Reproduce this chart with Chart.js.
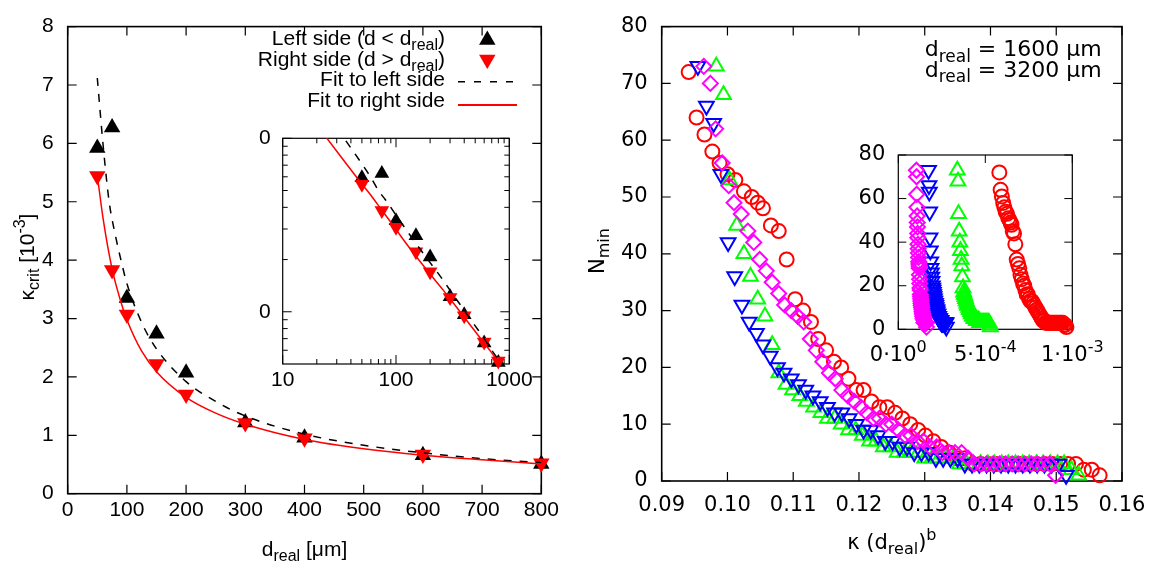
<!DOCTYPE html>
<html lang="en">
<head>
<meta charset="utf-8">
<title>Critical curvature and minimal N</title>
<script src="https://cdn.jsdelivr.net/npm/chart.js@4.4.1/dist/chart.umd.min.js"></script>
<style>
  html, body { margin: 0; padding: 0; background: #fff; }
  #stage { position: relative; width: 1164px; height: 564px; overflow: hidden; }
  #stage canvas { position: absolute; left: 0; top: 0; }
</style>
</head>
<body>
<div id="stage">
  <canvas id="left-main" width="1164" height="564"></canvas>
  <canvas id="left-inset" width="1164" height="564"></canvas>
  <canvas id="right-main" width="1164" height="564"></canvas>
  <canvas id="right-inset" width="1164" height="564"></canvas>
</div>
<script>
// ---- left panel: kappa_crit (in 1e-3) against d_real (um) ----
const dReal = [50, 75, 100, 150, 200, 300, 400, 600, 800];
const kappaLeftSide = [5.92, 6.27, 3.35, 2.74, 2.07, 1.22, 0.96, 0.66, 0.51];
const kappaRightSide = [5.44, 3.83, 3.07, 2.22, 1.70, 1.21, 0.95, 0.67, 0.52];
const fitLeftX = [50, 60, 70, 80, 90, 100, 125, 150, 200, 250, 300, 400, 500, 600, 700, 800];
const fitLeftY = [7.12, 5.95, 5.0, 4.45, 4.0, 3.6, 2.93, 2.48, 1.92, 1.58, 1.33, 1.02, 0.83, 0.70, 0.60, 0.53];
const fitRightX = [50, 60, 75, 90, 100, 125, 150, 200, 250, 300, 400, 500, 600, 700, 800];
const fitRightY = [5.45, 4.70, 3.85, 3.28, 2.98, 2.44, 2.09, 1.65, 1.38, 1.19, 0.93, 0.77, 0.66, 0.58, 0.51];
// the log-log inset shows the fits over its whole x range
const fitLeftLead = [30, 11.5], fitLeftTail = [1000, 0.43];
const fitRightLead = [20, 11.93], fitRightTail = [1000, 0.42];

const leftXTicks = [0, 100, 200, 300, 400, 500, 600, 700, 800];
const leftYTicks = [0, 1, 2, 3, 4, 5, 6, 7, 8];
const logXTicks = [10, 100, 1000];
const logXMinor = [20, 30, 40, 50, 60, 70, 80, 90, 200, 300, 400, 500, 600, 700, 800, 900];
const logYTicks = [1, 10];
const logYMinor = [0.6, 0.7, 0.8, 0.9, 2, 3, 4, 5, 6, 7, 8, 9];

// ---- right panel: N_min against kappa * d_real^b ----
const redX = [0.0941, 0.0953, 0.0965, 0.0977, 0.0988, 0.1000, 0.1012, 0.1025, 0.1037, 0.1046, 0.1054, 0.1066, 0.1078, 0.1090,
  0.1103, 0.1115, 0.1127, 0.1138, 0.1150, 0.1162, 0.1173, 0.1184, 0.1196, 0.1207, 0.1219, 0.1231, 0.1243, 0.1255, 0.1266,
  0.1278, 0.1290, 0.1301, 0.1313, 0.1325, 0.1337, 0.1349, 0.1361, 0.1373, 0.1385, 0.1397, 0.1409, 0.1421, 0.1434, 0.1446,
  0.1458, 0.1470, 0.1482, 0.1494, 0.1506, 0.1518, 0.1530, 0.1542, 0.1554, 0.1566];
const redN = [72, 64, 61, 58, 56, 54, 53, 51, 50, 49, 48, 45, 44, 39, 32, 30, 28, 25, 23, 21, 20, 18, 16, 16, 14, 13, 13, 12, 11,
  10, 9, 8, 7, 6, 5, 4, 4, 3, 3, 3, 3, 3, 3, 3, 3, 3, 3, 3, 3, 3, 3, 2, 2, 1];

const greenX = [0.0983, 0.0994, 0.1003, 0.1014, 0.1025, 0.1035, 0.1046, 0.1057, 0.1068, 0.1078, 0.1089, 0.1099, 0.1110, 0.1120,
  0.1131, 0.1142, 0.1152, 0.1163, 0.1173, 0.1184, 0.1195, 0.1205, 0.1216, 0.1226, 0.1237, 0.1248, 0.1258, 0.1269, 0.1279,
  0.1290, 0.1300, 0.1311, 0.1322, 0.1332, 0.1343, 0.1353, 0.1364, 0.1374, 0.1385, 0.1396, 0.1406, 0.1417, 0.1427, 0.1438,
  0.1449, 0.1459, 0.1470, 0.1480, 0.1491, 0.1502, 0.1512, 0.1523, 0.1534];
const greenN = [73, 68, 53, 45, 40, 36, 32, 29, 24, 19, 17, 16, 15, 14, 13, 12, 11, 11, 10, 9, 9, 8, 7, 7, 6, 6, 5, 5, 5,
  5, 4, 4, 4, 4, 4, 3, 3, 3, 3, 3, 3, 3, 3, 3, 3, 3, 3, 3, 3, 3, 3, 2, 1];

const blueX = [0.0955, 0.0968, 0.0979, 0.0990, 0.1001, 0.1011, 0.1022, 0.1033, 0.1044, 0.1054, 0.1065, 0.1076, 0.1086, 0.1097,
  0.1108, 0.1119, 0.1130, 0.1141, 0.1152, 0.1163, 0.1174, 0.1185, 0.1196, 0.1207, 0.1218, 0.1229, 0.1240, 0.1251, 0.1262,
  0.1273, 0.1284, 0.1295, 0.1306, 0.1317, 0.1328, 0.1339, 0.1350, 0.1361, 0.1372, 0.1383, 0.1394, 0.1405, 0.1416, 0.1427,
  0.1438, 0.1449, 0.1460, 0.1471, 0.1482, 0.1493, 0.1504, 0.1515];
const blueN = [73, 66, 63, 54, 42, 36, 31, 28, 26, 24, 22, 20, 19, 18, 17, 16, 15, 14, 13, 12, 12, 11, 10, 9, 9, 8, 7, 7, 6,
  6, 5, 5, 5, 4, 4, 4, 4, 3, 3, 3, 3, 3, 3, 3, 3, 3, 3, 3, 3, 3, 3, 1];

const magentaX = [0.0964, 0.0974, 0.0982, 0.0992, 0.1002, 0.1010, 0.1021, 0.1031, 0.1040, 0.1049, 0.1059, 0.1068, 0.1078,
  0.1087, 0.1097, 0.1107, 0.1116, 0.1126, 0.1135, 0.1145, 0.1155, 0.1164, 0.1174, 0.1183, 0.1193, 0.1203, 0.1212, 0.1222,
  0.1231, 0.1241, 0.1250, 0.1260, 0.1270, 0.1279, 0.1289, 0.1298, 0.1308, 0.1318, 0.1327, 0.1337, 0.1346, 0.1356, 0.1366,
  0.1375, 0.1385, 0.1394, 0.1404, 0.1414, 0.1423, 0.1433, 0.1442, 0.1452, 0.1462, 0.1471, 0.1481, 0.1490, 0.1499];
const magentaN = [73, 70, 62, 56, 52, 49, 47, 44, 42, 39, 37, 35, 33, 31, 30, 29, 28, 25, 23, 21, 19, 18, 16, 15, 14, 13, 12, 11,
  11, 10, 10, 9, 8, 8, 7, 7, 6, 6, 5, 5, 5, 5, 4, 3, 3, 3, 3, 3, 3, 3, 3, 3, 3, 3, 3, 3, 1];

// inset plots the raw kappa: collapsed value times d_real^-b of each run
const redScale = 6.17e-3, greenScale = 3.45e-3, blueScale = 1.82e-3, magentaScale = 1.08e-3;

const rightXTicks = [0.09, 0.10, 0.11, 0.12, 0.13, 0.14, 0.15, 0.16];
const rightYTicks = [0, 10, 20, 30, 40, 50, 60, 70, 80];
const smallXTicks = [0, 5e-4, 1e-3];
const smallXLabels = [['0·10', '0'], ['5·10', '-4'], ['1·10', '-3']];
const smallYTicks = [0, 20, 40, 60, 80];

const W = 1164, H = 564;
const LEFT_FONT = '"Liberation Sans", Arial, Helvetica, sans-serif';
const RIGHT_FONT = '"DejaVu Sans", Verdana, sans-serif';
const LEFT_SIZE = 21, RIGHT_SIZE = 21, RIGHT_KEY_SIZE = 22;

const pts = (xs, ys) => xs.map((x, i) => ({ x, y: ys[i] }));
const scaledPts = (xs, ys, f) => xs.map((x, i) => ({ x: x * f, y: ys[i] }));
const withEnds = (lead, xs, ys, tail) => [{ x: lead[0], y: lead[1] }].concat(pts(xs, ys), [{ x: tail[0], y: tail[1] }]);

// text with sub/superscripts: parts are [text, shift], shift -1 sub, 1 sup
function drawRich(ctx, parts, x, y, size, family, align) {
  const small = Math.round(size * 0.75);
  const widths = parts.map(([t, s]) => {
    ctx.font = `${s ? small : size}px ${family}`;
    return ctx.measureText(t).width;
  });
  const total = widths.reduce((a, b) => a + b, 0);
  let cx = align === 'right' ? x - total : align === 'center' ? x - total / 2 : x;
  ctx.textAlign = 'left';
  ctx.textBaseline = 'alphabetic';
  parts.forEach(([t, s], i) => {
    ctx.font = `${s ? small : size}px ${family}`;
    const dy = s < 0 ? size * 0.25 : s > 0 ? -size * 0.42 : 0;
    ctx.fillText(t, cx, y + dy);
    cx += widths[i];
  });
}

// closed box with inward ticks mirrored on all four sides
const framePlugin = {
  id: 'frame',
  beforeDatasetsDraw(chart, args, o) {
    const { ctx, chartArea: a } = chart;
    const sx = chart.scales.x, sy = chart.scales.y;
    ctx.save();
    ctx.strokeStyle = '#000';
    ctx.lineWidth = o.tickWidth;
    ctx.beginPath();
    const xs = sx.ticks.map((t) => [t.value, o.tick]).concat((o.minorX || []).map((v) => [v, o.minorTick]));
    xs.forEach(([v, len]) => {
      const p = sx.getPixelForValue(v);
      ctx.moveTo(p, a.bottom); ctx.lineTo(p, a.bottom - len);
      ctx.moveTo(p, a.top); ctx.lineTo(p, a.top + len);
    });
    const ys = sy.ticks.map((t) => [t.value, o.tick]).concat((o.minorY || []).map((v) => [v, o.minorTick]));
    ys.forEach(([v, len]) => {
      const p = sy.getPixelForValue(v);
      ctx.moveTo(a.left, p); ctx.lineTo(a.left + len, p);
      ctx.moveTo(a.right, p); ctx.lineTo(a.right - len, p);
    });
    ctx.stroke();
    ctx.lineWidth = o.lineWidth;
    ctx.strokeRect(a.left, a.top, a.right - a.left, a.bottom - a.top);
    ctx.restore();
  },
};

function axis(type, min, max, values, font, pad, fmt, show) {
  return {
    type, min, max,
    grid: { display: false, drawTicks: false },
    border: { display: false },
    afterBuildTicks: (s) => { s.ticks = values.map((v) => ({ value: v })); },
    ticks: { display: show !== false, autoSkip: false, maxRotation: 0, padding: pad, color: '#000', font, callback: fmt },
  };
}

function makeChart(id, box, x, y, datasets, frame, extra) {
  const yW = 60, xH = 60;
  x.afterFit = (s) => { s.height = xH; };
  y.afterFit = (s) => { s.width = yW; };
  return new Chart(document.getElementById(id), {
    type: 'scatter',
    data: { datasets },
    options: {
      responsive: false,
      animation: false,
      devicePixelRatio: 1,
      events: [],
      layout: { padding: { left: box.left - yW, top: box.top, right: W - box.right, bottom: H - box.bottom - xH } },
      scales: { x, y },
      plugins: { legend: { display: false }, tooltip: { enabled: false }, frame },
    },
    plugins: extra ? [framePlugin, extra] : [framePlugin],
  });
}

const filledMarks = (ys, style, rot, color, r) => ({
  data: pts(dReal, ys), showLine: false, clip: false,
  pointStyle: style, pointRotation: rot, pointRadius: r,
  pointBackgroundColor: color, pointBorderColor: color, pointBorderWidth: 0,
});
const fitLine = (data, color, dash, clip) => ({
  data, showLine: true, pointRadius: 0, borderColor: color, borderWidth: 1.5,
  borderDash: dash, cubicInterpolationMode: 'monotone', clip,
});
const openMarks = (data, style, rot, color, r) => ({
  data, showLine: false, clip: false,
  pointStyle: style, pointRotation: rot, pointRadius: r,
  pointBackgroundColor: 'rgba(0,0,0,0)', pointBorderColor: color, pointBorderWidth: 2,
});

const leftFont = { family: LEFT_FONT, size: LEFT_SIZE };
const rightFont = { family: RIGHT_FONT, size: RIGHT_SIZE };

// ---- left main panel ----
const leftDecor = {
  id: 'leftDecor',
  afterDraw(chart) {
    const ctx = chart.ctx;
    ctx.save();
    ctx.fillStyle = '#000';
    drawRich(ctx, [['d', 0], ['real', -1], [' [μm]', 0]], 304.5, 556, LEFT_SIZE, LEFT_FONT, 'center');
    ctx.translate(34, 257);
    ctx.rotate(-Math.PI / 2);
    drawRich(ctx, [['κ', 0], ['crit', -1], [' [10', 0], ['-3', 1], [']', 0]], 0, 0, LEFT_SIZE, LEFT_FONT, 'center');
    ctx.restore();

    ctx.save();
    ctx.fillStyle = '#000';
    drawRich(ctx, [['Left side (d < d', 0], ['real', -1], [')', 0]], 445, 45, LEFT_SIZE, LEFT_FONT, 'right');
    drawRich(ctx, [['Right side (d > d', 0], ['real', -1], [')', 0]], 445, 65.7, LEFT_SIZE, LEFT_FONT, 'right');
    drawRich(ctx, [['Fit to left side', 0]], 445, 86.4, LEFT_SIZE, LEFT_FONT, 'right');
    drawRich(ctx, [['Fit to right side', 0]], 445, 107.1, LEFT_SIZE, LEFT_FONT, 'right');
    const dp = Chart.helpers.drawPoint;
    ctx.fillStyle = '#000';
    dp(ctx, { pointStyle: 'triangle', radius: 9.5, rotation: 0, borderWidth: 0 }, 487.3, 40);
    ctx.fillStyle = '#ff0000';
    dp(ctx, { pointStyle: 'triangle', radius: 9.5, rotation: 180, borderWidth: 0 }, 487.3, 59.5);
    ctx.lineWidth = 1.5;
    ctx.strokeStyle = '#000';
    ctx.setLineDash([7, 9]);
    ctx.beginPath(); ctx.moveTo(458, 81.7); ctx.lineTo(517, 81.7); ctx.stroke();
    ctx.setLineDash([]);
    ctx.strokeStyle = '#ff0000';
    ctx.lineWidth = 2;
    ctx.beginPath(); ctx.moveTo(458, 105); ctx.lineTo(517, 105); ctx.stroke();
    ctx.restore();
  },
};

makeChart('left-main', { left: 67.7, top: 20.1, right: 541.3, bottom: 493.7 },
  axis('linear', 0, 800, leftXTicks, leftFont, 4, (v) => String(v)),
  axis('linear', 0, 8, leftYTicks, leftFont, 14, (v) => String(v)),
  [
    fitLine(pts(fitRightX, fitRightY), '#ff0000', [], false),
    fitLine(pts(fitLeftX, fitLeftY), '#000000', [8, 8], false),
    filledMarks(kappaRightSide, 'triangle', 180, '#ff0000', 9.5),
    filledMarks(kappaLeftSide, 'triangle', 0, '#000000', 9.5),
  ],
  { lineWidth: 1.6, tickWidth: 1.2, tick: 9, minorTick: 5 },
  leftDecor);

// ---- left inset, log-log ----
makeChart('left-inset', { left: 282.7, top: 138.3, right: 509.3, bottom: 364 },
  axis('logarithmic', 10, 1000, logXTicks, leftFont, 4, (v) => String(v)),
  axis('logarithmic', 0.5, 10, logYTicks, leftFont, 12, () => '0'),
  [
    fitLine(withEnds(fitRightLead, fitRightX, fitRightY, fitRightTail), '#ff0000', [], 0),
    fitLine(withEnds(fitLeftLead, fitLeftX, fitLeftY, fitLeftTail), '#000000', [8, 8], 0),
    filledMarks(kappaRightSide, 'triangle', 180, '#ff0000', 8.5),
    filledMarks(kappaLeftSide, 'triangle', 0, '#000000', 8.5),
  ],
  { lineWidth: 1.2, tickWidth: 1, tick: 9, minorTick: 5, minorX: logXMinor, minorY: logYMinor });

// ---- right main panel ----
const rightDecor = {
  id: 'rightDecor',
  afterDraw(chart) {
    const ctx = chart.ctx;
    ctx.save();
    ctx.fillStyle = '#000';
    drawRich(ctx, [['κ (d', 0], ['real', -1], [')', 0], ['b', 1]], 891.9, 549, RIGHT_SIZE, RIGHT_FONT, 'center');
    drawRich(ctx, [['d', 0], ['real', -1], [' = 1600 μm', 0]], 1101.7, 56, RIGHT_KEY_SIZE, RIGHT_FONT, 'right');
    drawRich(ctx, [['d', 0], ['real', -1], [' = 3200 μm', 0]], 1101.7, 76.5, RIGHT_KEY_SIZE, RIGHT_FONT, 'right');
    ctx.translate(604, 251);
    ctx.rotate(-Math.PI / 2);
    drawRich(ctx, [['N', 0], ['min', -1]], 0, 0, RIGHT_SIZE, RIGHT_FONT, 'center');
    ctx.restore();
  },
};

makeChart('right-main', { left: 661.7, top: 21, right: 1122, bottom: 481 },
  axis('linear', 0.09, 0.16, rightXTicks, rightFont, 12, (v) => v.toFixed(2)),
  axis('linear', 0, 80, rightYTicks, rightFont, 14, (v) => String(v)),
  [
    openMarks(pts(magentaX, magentaN), 'rectRot', 0, '#ff00ff', 7.5),
    openMarks(pts(blueX, blueN), 'triangle', 180, '#0000ff', 8.5),
    openMarks(pts(greenX, greenN), 'triangle', 0, '#00ff00', 8.5),
    openMarks(pts(redX, redN), 'circle', 0, '#ff0000', 7),
  ],
  { lineWidth: 1.6, tickWidth: 1.2, tick: 9, minorTick: 5 },
  rightDecor);

// ---- right inset, raw kappa ----
const insetLabels = {
  id: 'insetLabels',
  afterDraw(chart) {
    const ctx = chart.ctx;
    const sx = chart.scales.x;
    ctx.save();
    ctx.fillStyle = '#000';
    smallXTicks.forEach((v, i) => {
      const [base, sup] = smallXLabels[i];
      drawRich(ctx, [[base, 0], [sup, 1]], sx.getPixelForValue(v), 360.5, RIGHT_SIZE, RIGHT_FONT, 'center');
    });
    ctx.restore();
  },
};

makeChart('right-inset', { left: 898.3, top: 155, right: 1072.3, bottom: 329.3 },
  axis('linear', 0, 1e-3, smallXTicks, rightFont, 4, () => '', false),
  axis('linear', 0, 80, smallYTicks, rightFont, 13, (v) => String(v)),
  [
    openMarks(scaledPts(magentaX, magentaN, magentaScale), 'rectRot', 0, '#ff00ff', 7.5),
    openMarks(scaledPts(blueX, blueN, blueScale), 'triangle', 180, '#0000ff', 8.5),
    openMarks(scaledPts(greenX, greenN, greenScale), 'triangle', 0, '#00ff00', 8.5),
    openMarks(scaledPts(redX, redN, redScale), 'circle', 0, '#ff0000', 7),
  ],
  { lineWidth: 1.2, tickWidth: 1, tick: 8, minorTick: 4 },
  insetLabels);
</script>
</body>
</html>
